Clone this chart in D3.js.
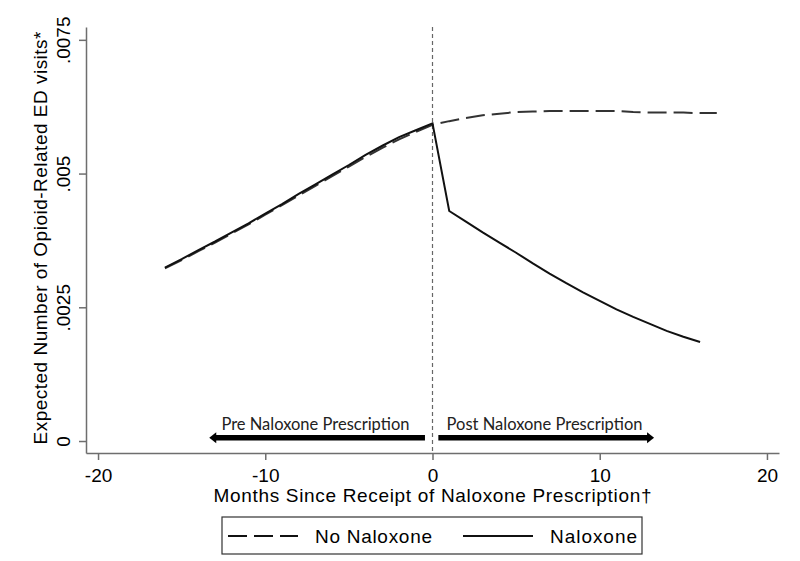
<!DOCTYPE html>
<html>
<head>
<meta charset="utf-8">
<script src="https://cdn.jsdelivr.net/npm/d3@7"></script>
<style>
  body { margin: 0; background: #fff; }
  #chart { width: 800px; height: 561px; }
  .axis path, .axis line { stroke: #6e6e6e; stroke-width: 1.5; }
  .axis text { font-family: "Liberation Sans", Arial, sans-serif; font-size: 19px; fill: #000; }
</style>
</head>
<body>
<div id="chart"></div>
<script>

// months since receipt of naloxone prescription
const monthsPre = [-16, -15, -14, -13, -12, -11, -10, -9, -8, -7, -6, -5, -4, -3, -2, -1, 0];
const monthsPost = [0, 1, 2, 3, 4, 5, 6, 7, 8, 9, 10, 11, 12, 13, 14, 15, 16, 17];

// expected number of opioid-related ED visits
const naloxonePre = [0.00324, 0.00340, 0.00357, 0.00373, 0.00390, 0.00407, 0.00425, 0.00443, 0.00462, 0.00480, 0.00498, 0.00516, 0.00535, 0.00552, 0.00568, 0.00581, 0.00594];
const noNaloxonePre = [0.00323, 0.00338, 0.00355, 0.00371, 0.00388, 0.00405, 0.00423, 0.00441, 0.00459, 0.00477, 0.00495, 0.00513, 0.00531, 0.00548, 0.00564, 0.00578, 0.00591];
const noNaloxonePost = [0.00591, 0.00598, 0.00604, 0.00609, 0.00612, 0.00615, 0.00616, 0.00617, 0.00617, 0.00617, 0.00617, 0.00617, 0.00615, 0.00614, 0.00614, 0.00614, 0.00613, 0.00613];
const naloxonePost = [0.00594, 0.00430, 0.00410, 0.00390, 0.00371, 0.00352, 0.00332, 0.00313, 0.00295, 0.00278, 0.00262, 0.00246, 0.00232, 0.00219, 0.00206, 0.00195, 0.00185];

const xTicks = [-20, -10, 0, 10, 20];
const xTickLabels = ["-20", "-10", "0", "10", "20"];
const yTicks = [0, 0.0025, 0.005, 0.0075];
const yTickLabels = ["0", ".0025", ".005", ".0075"];

const seriesNames = ["No Naloxone", "Naloxone"];

/*
SVG CANVAS
*/
const width = 800;
const height = 561;

const svg = d3.select("#chart")
  .append("svg")
  .attr("width", width)
  .attr("height", height);

/*
SCALES
*/
const xScale = d3.scaleLinear()
  .domain([-20.72, 20.72])
  .range([86, 779]);

const yScale = d3.scaleLinear()
  .domain([-0.000224, 0.00774])
  .range([453, 27]);

/*
AXES
*/
const xAxis = svg.append("g")
  .attr("class", "axis")
  .attr("transform", "translate(0,453)")
  .call(d3.axisBottom(xScale).tickValues(xTicks).tickSize(7).tickSizeOuter(0).tickPadding(9)
    .tickFormat(function (d, i) { return xTickLabels[i]; }));

const yAxis = svg.append("g")
  .attr("class", "axis")
  .attr("transform", "translate(86,0)")
  .call(d3.axisLeft(yScale).tickValues(yTicks).tickSize(7).tickSizeOuter(0)
    .tickFormat(function (d, i) { return yTickLabels[i]; }));

yAxis.selectAll("text")
  .attr("x", 0)
  .attr("dy", 0)
  .attr("text-anchor", "middle")
  .attr("transform", "translate(-16,0) rotate(-90)");

/*
REFERENCE LINE AT MONTH 0
*/
svg.append("line")
  .attr("x1", xScale(0))
  .attr("x2", xScale(0))
  .attr("y1", 27)
  .attr("y2", 453)
  .attr("stroke", "#666")
  .attr("stroke-width", 1.2)
  .attr("stroke-dasharray", "4,3");

/*
LINES
*/
const line = d3.line()
  .x(function (d) { return xScale(d[0]); })
  .y(function (d) { return yScale(d[1]); })
  .curve(d3.curveLinear);

const noNalData = monthsPre.map((m, i) => [m, noNaloxonePre[i]])
  .concat(monthsPost.slice(1).map((m, i) => [m, noNaloxonePost[i + 1]]));
const nalData = monthsPre.map((m, i) => [m, naloxonePre[i]])
  .concat(monthsPost.slice(1, naloxonePost.length).map((m, i) => [m, naloxonePost[i + 1]]));

svg.append("path")
  .datum(noNalData)
  .attr("d", line)
  .attr("fill", "none")
  .attr("stroke", "#333")
  .attr("stroke-width", 2)
  .attr("stroke-dasharray", "19,7");

svg.append("path")
  .datum(nalData)
  .attr("d", line)
  .attr("fill", "none")
  .attr("stroke", "#111")
  .attr("stroke-width", 2);

/*
PRE / POST ARROWS
*/
const arrowY = yScale(0.00006);

function arrow(x0, x1) {
  const dir = x1 > x0 ? 1 : -1;
  svg.append("line")
    .attr("x1", xScale(x0))
    .attr("x2", xScale(x1) - dir * 5)
    .attr("y1", arrowY)
    .attr("y2", arrowY)
    .attr("stroke", "#000")
    .attr("stroke-width", 5.5);
  const tip = xScale(x1);
  svg.append("path")
    .attr("d", `M${tip},${arrowY} L${tip - dir * 7},${arrowY - 5.5} L${tip - dir * 7},${arrowY + 5.5} Z`)
    .attr("fill", "#000");
}
arrow(-0.45, -13.35);
arrow(0.35, 13.25);

svg.append("text")
  .attr("x", xScale(-7.0))
  .attr("y", arrowY - 8)
  .attr("text-anchor", "middle")
  .attr("font-family", "Lato, 'Open Sans', sans-serif")
  .attr("font-size", 16.5)
  .attr("fill", "#222")
  .text("Pre Naloxone Prescription");

svg.append("text")
  .attr("x", xScale(6.7))
  .attr("y", arrowY - 8)
  .attr("text-anchor", "middle")
  .attr("font-family", "Lato, 'Open Sans', sans-serif")
  .attr("font-size", 16.5)
  .attr("fill", "#222")
  .text("Post Naloxone Prescription");

/*
AXIS LABELS
*/
svg.append("text")
  .attr("x", xScale(0))
  .attr("y", 502)
  .attr("text-anchor", "middle")
  .attr("font-family", "Liberation Sans, Arial, sans-serif")
  .attr("font-size", 19)
  .attr("textLength", 438)
  .attr("lengthAdjust", "spacing")
  .text("Months Since Receipt of Naloxone Prescription\u2020");

svg.append("text")
  .attr("x", -238)
  .attr("y", 47)
  .attr("text-anchor", "middle")
  .attr("transform", "rotate(-90)")
  .attr("font-family", "Liberation Sans, Arial, sans-serif")
  .attr("font-size", 19)
  .attr("textLength", 413)
  .attr("lengthAdjust", "spacing")
  .text("Expected Number of Opioid-Related ED visits*");

/*
LEGEND
*/
const legend = svg.append("g").attr("transform", "translate(222,517)");

legend.append("rect")
  .attr("width", 420)
  .attr("height", 37)
  .attr("fill", "#fff")
  .attr("stroke", "#333")
  .attr("stroke-width", 1.2);

const legendItems = [
  { name: seriesNames[0], x: 6, dash: "19,7", len: 117 },
  { name: seriesNames[1], x: 241, dash: null, len: 87 }
];

legendItems.forEach(function (d) {
  legend.append("line")
    .attr("x1", d.x)
    .attr("x2", d.x + 70)
    .attr("y1", 19)
    .attr("y2", 19)
    .attr("stroke", "#111")
    .attr("stroke-width", 2)
    .attr("stroke-dasharray", d.dash);
  legend.append("text")
    .attr("x", d.x + 87)
    .attr("y", 26)
    .attr("font-family", "Liberation Sans, Arial, sans-serif")
    .attr("font-size", 19)
    .attr("textLength", d.len)
    .attr("lengthAdjust", "spacing")
    .text(d.name);
});

</script>
</body>
</html>
